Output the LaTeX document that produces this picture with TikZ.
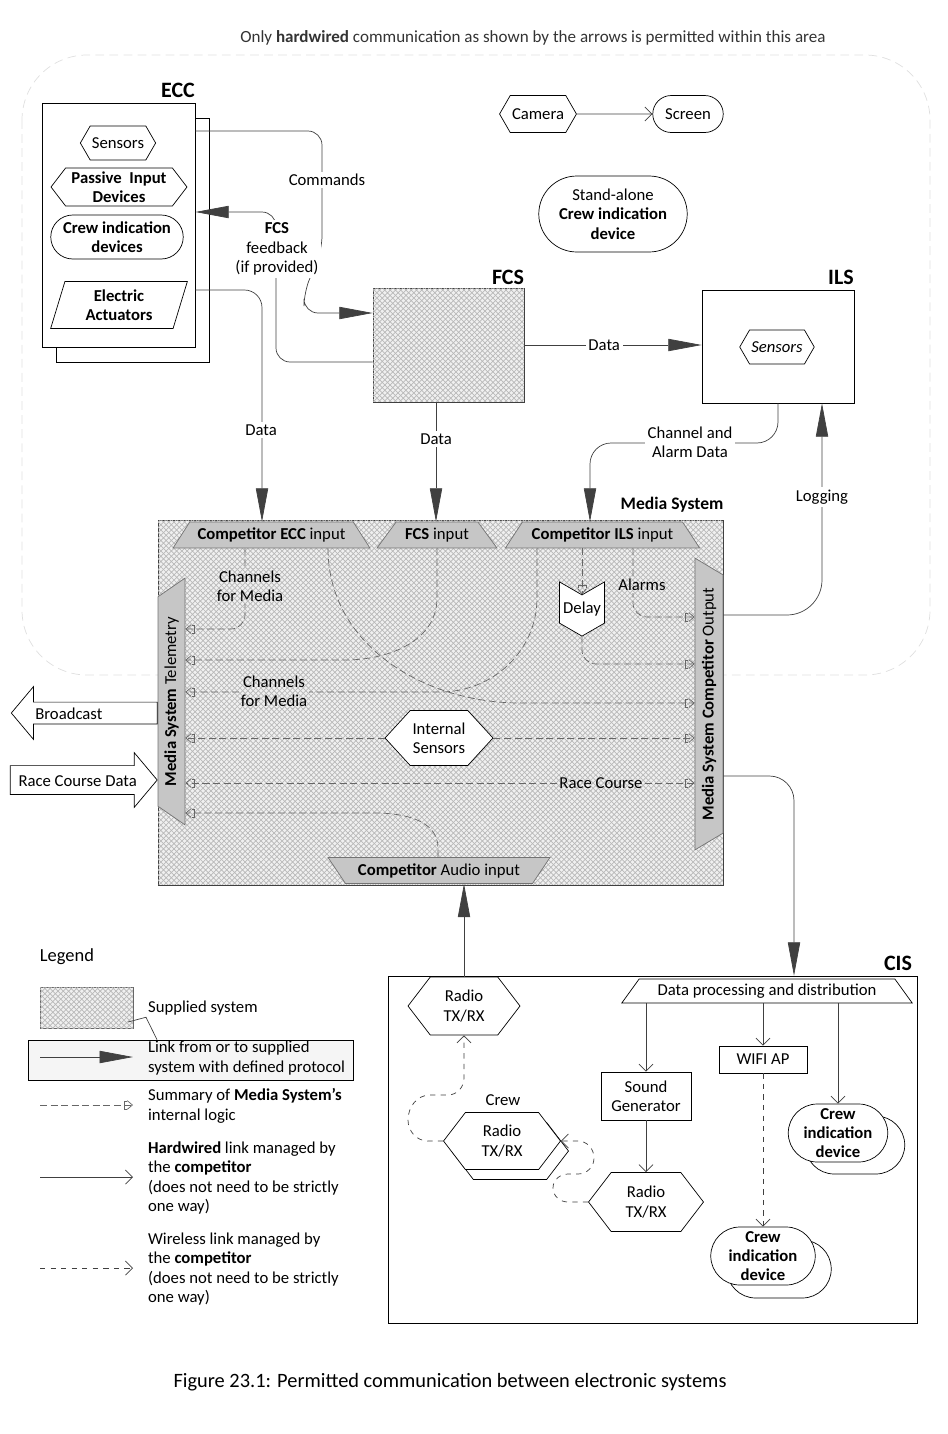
\documentclass[tikz,border=0pt]{standalone}
\usepackage{fontspec}
\setmainfont{Carlito}
\usetikzlibrary{arrows.meta,positioning,calc,shapes.geometric,shapes.symbols,shapes.misc,shapes.arrows,patterns}
\newcommand\dfont{\fontsize{9.5}{11}\selectfont}

\begin{document}
\begin{tikzpicture}[
  x=0.02cm,y=-0.02cm,
  every node/.style={font=\dfont,inner sep=1pt,align=center},
  bf/.style={font=\dfont\bfseries},
  title/.style={font=\fontsize{12.5}{14}\selectfont\bfseries},
  hexa/.style={signal,signal to=west and east,signal pointer angle=105,draw,fill=white},
  stadium/.style={rounded rectangle,draw,fill=white},
  box/.style={rectangle,draw,fill=white},
  port/.style={trapezium,trapezium stretches=true,trapezium left angle=50,trapezium right angle=50,
    draw=black!55,fill=gray!45,inner xsep=0pt,minimum height=0.52cm},
  supplied/.style={draw=black!75,fill=gray!12,postaction={pattern=crosshatch,pattern color=gray!55}},
  onmedia/.style={fill=gray!12,postaction={pattern=crosshatch,pattern color=gray!55}},
  lbl/.style={fill=white,inner sep=1.5pt},
  link/.style={draw=black!75,-{Triangle[length=19pt,width=7pt]}},
  wire/.style={draw=black!75,-{Straight Barb[length=4pt,width=8pt]}},
  wless/.style={draw=black!75,dashed,-{Straight Barb[length=4pt,width=8pt]}},
  logic/.style={draw=black!60,dash pattern=on 4pt off 2pt,
    -{Bracket[reversed,width=5pt,length=1.5pt] Straight Barb[length=3pt,width=5pt]}}]
  \useasboundingbox (0,0) rectangle (947,1434);

  % hardwired area
  \draw[gray!25,dash pattern=on 5pt off 3pt,rounded corners=1.3cm] (22,55) rectangle (930,675);
  \node[font=\fontsize{9.7}{11}\selectfont,text=black!80] (note) at (533,38)
    {Only \textbf{hardwired} communication as shown by the arrows is permitted within this area};

  % ECC
  \node[title] (ecclbl) at (178,90) {ECC};
  \node[box,minimum width=3.06cm,minimum height=4.88cm] (eccb) at (132.5,240) {};
  \node[box,minimum width=3.06cm,minimum height=4.88cm] (ecc) at (118.5,225) {};
  \node[hexa,signal pointer angle=120,minimum width=1.36cm,minimum height=0.68cm] (ecsens) at (118,143) {Sensors};
  \node[hexa,bf,minimum width=2.72cm,minimum height=0.76cm] (pid) at (119,187) {Passive\ \ Input\\Devices};
  \node[stadium,bf,minimum width=2.72cm,minimum height=0.88cm] (cid) at (117,237) {Crew indication\\devices};
  \node[trapezium,trapezium stretches=true,trapezium left angle=75,trapezium right angle=105,
    draw,fill=white,bf,minimum width=2.74cm,minimum height=0.94cm] (eact) at (119,305) {Electric\\Actuators};

  % FCS and ILS
  \node[title] (fcslbl) at (508,277) {FCS};
  \node[supplied,minimum width=3.02cm,minimum height=2.28cm] (fcs) at (448.5,345) {};
  \node[title] (ilslbl) at (841,277) {ILS};
  \node[box,minimum width=3.04cm,minimum height=2.26cm] (ils) at (778,346.5) {};
  \node[hexa,signal pointer angle=120,font=\dfont\itshape,minimum width=1.36cm,minimum height=0.68cm] (ilsens) at (777,347) {Sensors};

  % stand-alone items
  \node[hexa,signal pointer angle=120,minimum width=1.52cm,minimum height=0.74cm] (cam) at (538,114) {Camera};
  \node[stadium,minimum width=1.48cm,minimum height=0.74cm] (scr) at (688,114) {Screen};
  \draw[wire] (cam) -- (scr);
  \node[stadium,minimum width=3.04cm,minimum height=1.52cm] (sacid) at (613,214)
    {Stand-alone\\\textbf{Crew indication}\\\textbf{device}};

  % ECC <-> FCS
  \draw[link,rounded corners=8pt] (ecc.east |- 0,131) -- (322,131) -- (322,250) -- (304,292) -- (304,313) -- (fcs.west |- 0,313);
  \node[lbl] (cmd) at (327,180) {Commands};
  \draw[link,rounded corners=8pt] (fcs.west |- 0,362) -- (276,362) -- (276,212) -- (ecc.east |- 0,212);
  \node[lbl] (fb) at (277,249) {\textbf{FCS}\\feedback\\(if provided)};

  % Media System
  \node[font=\fontsize{10}{12}\selectfont\bfseries] (medialbl) at (672,505) {Media System};
  \node[supplied,minimum width=11.3cm,minimum height=7.3cm] (media) at (440.5,702.5) {};
  \node[port,minimum width=3.94cm] (eccin) at (271.5,535) {\textbf{Competitor ECC} input};
  \node[port,minimum width=2.4cm] (fcsin) at (437,535) {\textbf{FCS} input};
  \node[port,minimum width=3.9cm] (ilsin) at (602.5,535) {\textbf{Competitor ILS} input};
  \node[port,shape border rotate=180,minimum width=4.44cm] (audio) at (439,870.5) {\textbf{Competitor} Audio input};
  \node[port,rotate=90,minimum width=4.94cm,minimum height=0.54cm] (telem) at (171.5,701.5) {\textbf{Media System} Telemetry};
  \node[port,rotate=90,shape border rotate=180,minimum width=5.84cm,minimum height=0.56cm] (outp) at (709,704) {\textbf{Media System Competitor} Output};
  \node[signal,signal from=north,signal to=south,signal pointer angle=120,draw,fill=white,
    minimum width=0.9cm,minimum height=1.04cm] (delay) at (582,609) {Delay};
  \node[hexa,signal pointer angle=95,minimum width=2.16cm,minimum height=1.1cm] (intsens) at (439,738) {Internal\\Sensors};

  % links into the Media System
  \draw[link,rounded corners=10pt] (ecc.east |- 0,290) -- (262,290) -- (eccin.north -| 262,0);
  \node[lbl] (d1) at (261,430) {Data};
  \draw[link] (fcs.south -| 436,0) -- (fcsin.north -| 436,0);
  \node[lbl] (d2) at (436,439) {Data};
  \draw[link] (fcs.east |- 0,345) -- (ils.west |- 0,345) node[lbl,pos=0.45] (d3) {Data};
  \draw[link,rounded corners=12pt] (ils.south) -- (778,443) -- (590,443) -- (ilsin.north -| 590,0);
  \node[lbl] (cad) at (690,442) {Channel and\\Alarm Data};
  \draw[link,rounded corners=20pt] (media.east |- 0,615) -- (822,615) -- (ils.south -| 822,0);
  \node[lbl] (logg) at (822,497) {Logging};

  % internal logic
  \draw[logic,rounded corners=8pt] (eccin.south -| 245,0) -- (245,629) -- (telem.south |- 0,629);
  \node[onmedia] (ch1) at (250,586) {Channels\\for Media};
  \draw[logic] (fcsin.south -| 437,0) -- (437,598) to[out=270,in=0] (345,660) -- (telem.south |- 0,660);
  \draw[logic] (eccin.south -| 328,0) to[out=270,in=180] (520,703) -- (outp.north |- 0,703);
  \draw[logic] (ilsin.south -| 537,0) -- (537,598) to[out=270,in=0] (440,692) -- (telem.south |- 0,692);
  \node[onmedia] (ch2) at (274,691) {Channels\\for Media};
  \draw[logic] (ilsin.south -| 582,0) -- (delay.north);
  \draw[logic,rounded corners=8pt] (delay.south) -- (582,664) -- (outp.north |- 0,664);
  \draw[logic,rounded corners=8pt] (ilsin.south -| 633,0) -- (633,617) -- (outp.north |- 0,617);
  \node[onmedia] (alarms) at (642,585) {Alarms};
  \draw[logic] (intsens.west) -- (telem.south |- intsens.west);
  \draw[logic] (intsens.east) -- (outp.north |- intsens.east);
  \node[onmedia] (rc) at (601,783) {Race Course};
  \draw[logic] (rc.west) -- (telem.south |- rc.west);
  \draw[logic] (rc.east) -- (outp.north |- rc.east);
  \draw[logic] (audio.north -| 438,0) -- (438,848) to[out=90,in=0] (375,813) -- (telem.south |- 0,813);

  % outside the Media System
  \node[single arrow,draw,fill=white,shape border rotate=180,anchor=tail,minimum height=2.92cm,
    single arrow head extend=0.31cm,single arrow tip angle=100,inner ysep=2.5pt,text height=7pt,text depth=0pt]
    (bcast) at (telem.north |- 0,713) {Broadcast\hspace*{2.4em}};
  \node[single arrow,draw,fill=white,anchor=tip,minimum height=2.94cm,
    single arrow head extend=0.26cm,single arrow tip angle=100,inner ysep=4.5pt,text height=7pt,text depth=0pt]
    (rcd) at (telem.north |- 0,780) {Race Course Data};

  % CIS
  \node[title] (cislbl) at (898,963) {CIS};
  \node[box,minimum width=10.58cm,minimum height=6.94cm] (cis) at (652.5,1149.5) {};
  \draw[link,rounded corners=14pt] (media.east |- 0,776) -- (794,776) -- (cis.north -| 794,0);
  \node[hexa,minimum width=2.24cm,minimum height=1.16cm] (radio1) at (464,1006) {Radio\\TX/RX};
  \draw[link] (radio1.north) -- (audio.south -| radio1.north);
  \node[trapezium,trapezium stretches=true,trapezium left angle=50,trapezium right angle=50,draw,fill=white,
    minimum width=5.82cm,minimum height=0.48cm] (dpd) at (767,991) {Data processing and distribution};
  \node (crewlbl) at (503,1100) {Crew};
  \node[hexa,minimum width=2.34cm,minimum height=1.14cm] (radio3b) at (510,1151) {};
  \node[hexa,minimum width=2.34cm,minimum height=1.14cm] (radio3) at (502,1141) {Radio\\TX/RX};
  \node[box,minimum width=1.8cm,minimum height=0.96cm] (sg) at (646,1096) {Sound\\Generator};
  \node[box,minimum width=1.76cm,minimum height=0.54cm] (wifi) at (763,1059.5) {WIFI AP};
  \node[hexa,minimum width=2.3cm,minimum height=1.18cm] (radio2) at (646,1202) {Radio\\TX/RX};
  \node[stadium,minimum width=2.06cm,minimum height=1.16cm] (cidrb) at (855,1145) {};
  \node[stadium,bf,minimum width=2.06cm,minimum height=1.16cm] (cidr) at (838,1133) {Crew\\indication\\device};
  \node[stadium,minimum width=2.16cm,minimum height=1.16cm] (cidbb) at (779,1269) {};
  \node[stadium,bf,minimum width=2.16cm,minimum height=1.16cm] (cidb) at (763,1256) {Crew\\indication\\device};
  \draw[wire] (dpd.south -| sg.north) -- (sg.north);
  \draw[wire] (dpd.south -| wifi.north) -- (wifi.north);
  \draw[wire] (dpd.south -| cidr.north) -- (cidr.north);
  \draw[wire] (sg.south) -- (radio2.north);
  \draw[wless] (wifi.south) -- (cidb.north);
  \draw[wless] (radio3.west) -- (428,1141) to[out=180,in=270] (408,1120) to[out=90,in=180] (430,1095)
    -- (448,1095) to[out=0,in=270] (464,1078) -- (radio1.south);
  \draw[wless] (radio2.west) -- (568,1202) to[out=180,in=270] (553,1188) to[out=90,in=180] (568,1174)
    -- (578,1174) to[out=0,in=270] (594,1158) to[out=90,in=0] (578,1141) -- (radio3.east);

  % legend
  \node[font=\fontsize{10.5}{12}\selectfont] (leg) at (67,957) {Legend};
  \node[supplied,draw=black!60,minimum width=1.86cm,minimum height=0.82cm] (legsup) at (86.5,1007.5) {};
  \node[anchor=west] (legsuptxt) at (146,1008) {Supplied system};
  \node[draw,fill=gray!8,minimum width=6.5cm,minimum height=0.8cm] (leglink) at (190.5,1060) {};
  \draw[black!75] (128,1022) -- (legsuptxt.south west) -- (leglink.north -| 157,0);
  \coordinate (l1a) at (40,1057); \coordinate (l1b) at (133,1057);
  \draw[link] (l1a) -- (l1b);
  \node[anchor=west,align=left] (l1t) at (146,1058) {Link from or to supplied\\system with defined protocol};
  \coordinate (l2a) at (40,1105); \coordinate (l2b) at (133,1105);
  \draw[logic] (l2a) -- (l2b);
  \node[anchor=west,align=left] (l2t) at (146,1106) {Summary of \textbf{Media System's}\\internal logic};
  \coordinate (l3a) at (40,1177); \coordinate (l3b) at (133,1177);
  \draw[wire] (l3a) -- (l3b);
  \node[anchor=west,align=left] (l3t) at (146,1178)
    {\textbf{Hardwired} link managed by\\the \textbf{competitor}\\(does not need to be strictly\\one way)};
  \coordinate (l4a) at (40,1268); \coordinate (l4b) at (133,1268);
  \draw[wless] (l4a) -- (l4b);
  \node[anchor=west,align=left] (l4t) at (146,1269)
    {Wireless link managed by\\the \textbf{competitor}\\(does not need to be strictly\\one way)};

  \node[font=\fontsize{11.6}{13}\selectfont] (cap) at (450,1382) {Figure 23.1: Permitted communication between electronic systems};
\end{tikzpicture}
\end{document}
